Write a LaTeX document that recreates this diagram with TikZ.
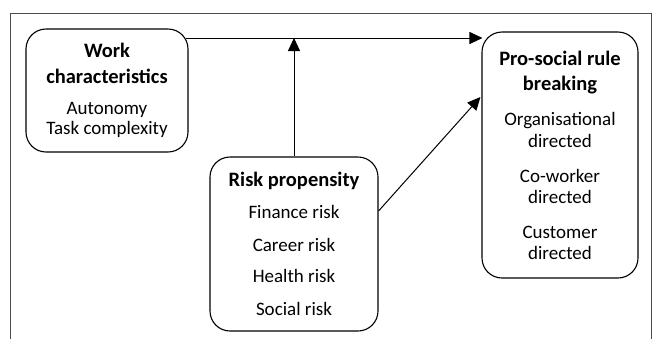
\documentclass[tikz,border=0pt]{standalone}
\usepackage{fontspec}
\setmainfont{Carlito}
\usetikzlibrary{arrows.meta,calc}
\begin{document}
\begin{tikzpicture}[x=1pt,y=-1pt,
  box/.style={draw=black,line width=1.1pt,rounded corners=20pt,align=center,
    font=\fontsize{19}{21}\selectfont,inner sep=0pt},
  conn/.style={draw=black,line width=1pt,-{Triangle[length=13pt,width=12pt]}},
  frame/.style={draw=black!70,line width=0.9pt}]
\useasboundingbox (0,0) rectangle (655,338);
\draw[frame] (10,340) -- (10,13) -- (651,13) -- (651,340);
\newcommand{\ttl}[1]{{\fontsize{20.5}{21}\selectfont\bfseries #1}}
\node[box,minimum width=162pt,minimum height=123pt] (wc) at (107,90.5)
  {\ttl{Work}\\[5pt]\ttl{characteristics}\\[10pt]Autonomy\\[-1pt]Task complexity};
\node[box,minimum width=168pt,minimum height=174pt] (rp) at (294,244)
  {\ttl{Risk propensity}\\[11pt]Finance risk\\[12pt]Career risk\\[10pt]Health risk\\[12pt]Social risk};
\node[box,minimum width=156pt,minimum height=246pt] (ps) at (560,155)
  {\ttl{Pro-social rule}\\[4pt]\ttl{breaking}\\[14pt]Organisational\\[1pt]directed\\[14pt]Co-worker\\directed\\[14pt]Customer\\directed};
\coordinate (top) at (0,38);
\coordinate (joint) at (rp.north |- top);
\draw[conn] ($(wc.east |- top)+(-3,0)$) -- ($(ps.west |- top)+(1,0)$);
\draw[conn] (rp.north) -- (joint);
\draw[conn] ($(rp.east)+(0,-33)$) -- ($(ps.west)+(-1,-58)$);
\end{tikzpicture}
\end{document}
